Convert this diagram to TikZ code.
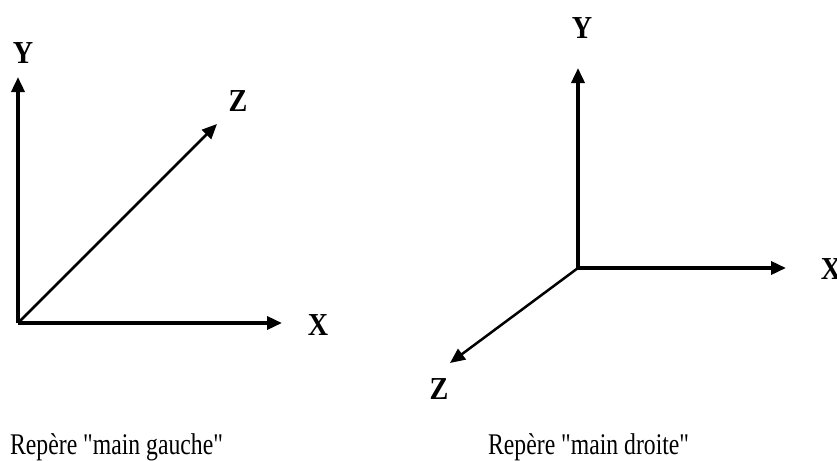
\documentclass[tikz,border=0pt]{standalone}
\usepackage{fontspec}
\setmainfont{Liberation Serif}[Ligatures=TeXOff]
\usetikzlibrary{arrows.meta}
\begin{document}
\begin{tikzpicture}[x=1pt,y=-1pt,
  axis/.style={line width=3.5pt,-{Triangle[length=15pt,width=13pt]}},
  diag/.style={line width=2.5pt,-{Triangle[length=15pt,width=13pt]}},
  lab/.style={font=\fontsize{32}{32}\selectfont\bfseries,inner sep=0pt,xscale=0.88},
  captext/.style={font=\fontsize{30}{30}\selectfont,inner sep=0pt,anchor=base west,xscale=0.79}]
\useasboundingbox (0,0) rectangle (837,460);
% left frame
\coordinate (O1) at (18,323);
\coordinate (Y1) at (18,77);
\coordinate (X1) at (282,323);
\coordinate (Z1) at (217,124);
\draw[axis] (O1) -- (Y1);
\draw[axis] (O1) -- (X1);
\draw[diag] (O1) -- (Z1);
\node[lab] (lY1) at (23,53) {Y};
\node[lab] (lZ1) at (238,101) {Z};
\node[lab] (lX1) at (318,325) {X};
% right frame
\coordinate (O2) at (578,268);
\coordinate (Y2) at (578,68);
\coordinate (X2) at (786,268);
\coordinate (Z2) at (450,363);
\draw[axis] (O2) -- (Y2);
\draw[axis] (O2) -- (X2);
\draw[diag] (O2) -- (Z2);
\node[lab] (lY2) at (582,28) {Y};
\node[lab] (lX2) at (831,269) {X};
\node[lab] (lZ2) at (439,389) {Z};
% captions
\node[captext] (c1) at (10,454) {Repère "main gauche"};
\node[captext] (c2) at (488,454) {Repère "main droite"};
\end{tikzpicture}
\end{document}
